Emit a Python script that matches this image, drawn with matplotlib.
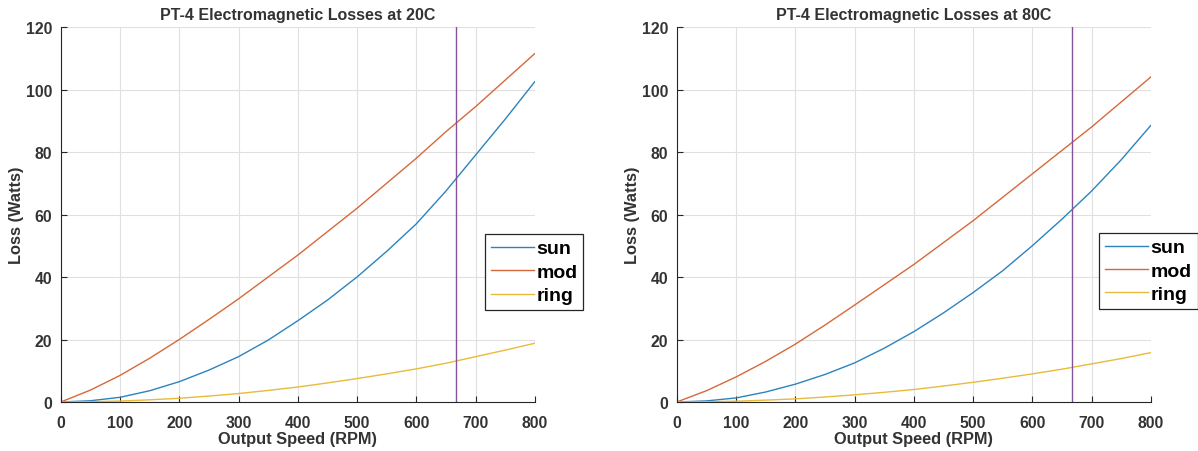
import matplotlib
matplotlib.use("Agg")
import matplotlib.pyplot as plt

speed = [0, 50, 100, 150, 200, 250, 300, 350, 400, 450, 500, 550, 600, 650, 700, 750, 800]

sun_20 = [0, 0.4, 1.5, 3.6, 6.5, 10.2, 14.5, 19.8, 26, 32.6, 40, 48.2, 57, 67.5, 79, 90.5, 102.5]
mod_20 = [0, 3.8, 8.5, 14, 20, 26.4, 33, 40, 47, 54.5, 62, 70, 78, 86.5, 94.5, 103, 111.5]
ring_20 = [0, 0.1, 0.3, 0.7, 1.2, 1.9, 2.7, 3.7, 4.8, 6.1, 7.5, 9, 10.6, 12.4, 14.5, 16.6, 18.8]

sun_80 = [0, 0.35, 1.3, 3.2, 5.7, 8.8, 12.5, 17.2, 22.5, 28.5, 35, 42, 50, 58.5, 67.5, 77.5, 88.5]
mod_80 = [0, 3.6, 8, 13, 18.5, 24.6, 31, 37.5, 44, 51, 58, 65.5, 73, 80.5, 88, 96, 104]
ring_80 = [0, 0.08, 0.25, 0.6, 1.0, 1.6, 2.3, 3.1, 4.0, 5.1, 6.3, 7.6, 9.0, 10.5, 12.2, 13.9, 15.8]

rated_speed = 667
series_names = ["sun", "mod", "ring"]
titles = ["PT-4 Electromagnetic Losses at 20C", "PT-4 Electromagnetic Losses at 80C"]
xticks = [0, 100, 200, 300, 400, 500, 600, 700, 800]
yticks = [0, 20, 40, 60, 80, 100, 120]

colors = ["#2b84bd", "#d6693a", "#e8bb3a"]
vline_color = "#85529a"

plt.rcParams['font.family'] = ['Liberation Sans', 'DejaVu Sans']

fig = plt.figure(figsize=(11.98, 4.52), dpi=100)
positions = [[0.0507, 0.1084, 0.3957, 0.8296], [0.5649, 0.1084, 0.3957, 0.8296]]
data = [[sun_20, mod_20, ring_20], [sun_80, mod_80, ring_80]]
leg_anchor = [(0.895, 0.448), (0.891, 0.451)]
text_color = '#333333'

for i in range(2):
    ax = fig.add_axes(positions[i])
    for s, name, c in zip(data[i], series_names, colors):
        ax.plot(speed, s, color=c, lw=1.0, label=name)
    ax.axvline(rated_speed, color=vline_color, lw=1.0)
    ax.set_xlim(0, 800)
    ax.set_ylim(0, 120)
    ax.set_xticks(xticks)
    ax.set_yticks(yticks)
    ax.grid(True, color="#e0e0e0", lw=0.8)
    ax.set_axisbelow(True)
    ax.spines['top'].set_visible(False)
    ax.spines['right'].set_visible(False)
    for sp in ['left', 'bottom']:
        ax.spines[sp].set_color('#262626')
        ax.spines[sp].set_linewidth(0.8)
    ax.tick_params(direction='in', length=4, width=0.8, color='#262626',
                   labelsize=11.3, labelcolor=text_color)
    ax.tick_params(axis='x', pad=9)
    ax.tick_params(axis='y', pad=6)
    for lab in ax.get_xticklabels() + ax.get_yticklabels():
        lab.set_fontweight('bold')
    ax.set_title(titles[i], fontsize=11.5, fontweight='bold', color=text_color, pad=6)
    ax.set_xlabel("Output Speed (RPM)", fontsize=11.8, fontweight='bold', color=text_color, labelpad=1)
    ax.set_ylabel("Loss (Watts)", fontsize=11.8, fontweight='bold', color=text_color, labelpad=1.5)
    leg = ax.legend(loc='upper left', bbox_to_anchor=leg_anchor[i], borderaxespad=0,
                    prop={'size': 14, 'weight': 'bold'}, fancybox=False, framealpha=1,
                    edgecolor='#262626', handlelength=2.2, handletextpad=0.15,
                    labelspacing=0.3, borderpad=0.3)
    leg.get_frame().set_linewidth(0.9)
    leg.set_clip_on(False)

fig.savefig("out.png", dpi=100)
